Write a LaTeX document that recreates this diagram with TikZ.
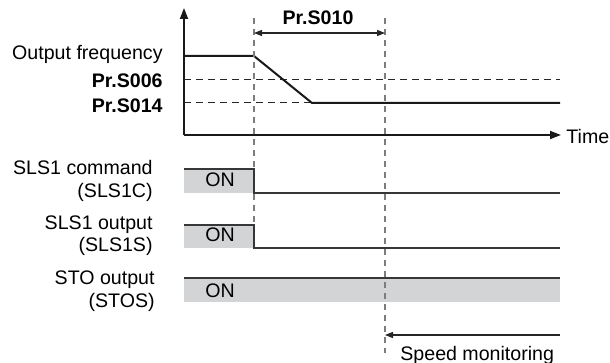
\documentclass[tikz,border=0pt]{standalone}
\usepackage{fontspec}
\setmainfont{Liberation Sans}
\usetikzlibrary{arrows.meta}

\definecolor{sigline}{RGB}{55,55,55}
\definecolor{onfill}{RGB}{211,212,213}
\definecolor{guide}{RGB}{125,125,125}

\begin{document}
\begin{tikzpicture}[x=0.5pt, y=-0.5pt,
    every node/.style={font=\fontsize{9.8}{11.5}\selectfont, inner sep=0pt},
    lbl/.style={anchor=base east},
    guideline/.style={guide, line width=0.9pt, dash pattern=on 3pt off 2.5pt},
    levelline/.style={black!85, line width=0.5pt, dash pattern=on 3.5pt off 2.5pt},
    signal/.style={sigline, line width=0.65pt},
    dimarrow/.style={{Triangle[length=4pt, width=3pt]}-{Triangle[length=4pt, width=3pt]}, black!85, line width=0.6pt}]
  \useasboundingbox (0,0) rectangle (610,363);

  % Time instants (vertical guides)
  \coordinate (t1top) at (254,18);
  \coordinate (t1bot) at (254,225);
  \coordinate (t2top) at (385,18);
  \coordinate (t2bot) at (385,353);

  % Fills for ON states
  \fill[onfill] (184,169) rectangle (254,193);
  \fill[onfill] (184,225) rectangle (254,248);
  \fill[onfill] (184,278) rectangle (560,302);

  % Axes
  \coordinate (origin) at (184,135);
  \coordinate (ytip) at (184,8);
  \coordinate (xtip) at (561,135);
  \draw[-{Triangle[length=5.5pt, width=4pt]}, black!90, line width=0.85pt] (origin) -- (ytip);
  \draw[-{Triangle[length=5.5pt, width=4pt]}, black!90, line width=0.85pt] (origin) -- (xtip);
  \node[anchor=base west] (time) at (566,144) {Time};

  % Speed levels
  \draw[levelline] (184,80) -- (560,80);
  \draw[levelline] (184,103) -- (312,103);

  % Output frequency profile
  \draw[black!90, line width=1pt] (184,56) -- (254,56) -- (312,103) -- (560,103);

  % Vertical guides
  \draw[guideline] (t1top) -- (t1bot);
  \draw[guideline] (t2top) -- (t2bot);

  % Pr.S010 interval
  \coordinate (s10a) at (254,33);
  \coordinate (s10b) at (385,33);
  \draw[dimarrow] (s10a) -- (s10b);
  \node[anchor=base] (s010) at (318,25) {\bfseries Pr.S010};

  % Signals
  \draw[signal] (184,169) -- (254,169) -- (254,193) -- (560,193);
  \draw[signal] (184,225) -- (254,225) -- (254,248) -- (560,248);
  \draw[signal] (184,278) -- (560,278);
  \node[anchor=base] (onC) at (220,187) {ON};
  \node[anchor=base] (onS) at (220,242) {ON};
  \node[anchor=base] (onT) at (220,297) {ON};

  % Labels
  \node[lbl] (freq) at (163,60) {Output frequency};
  \node[lbl] (s006) at (163,88) {\bfseries Pr.S006};
  \node[lbl] (s014) at (163,113) {\bfseries Pr.S014};
  \node[lbl] (cmdA) at (153,175) {SLS1 command};
  \node[lbl] (cmdB) at (153,198) {(SLS1C)};
  \node[lbl] (outA) at (153,230) {SLS1 output};
  \node[lbl] (outB) at (153,252) {(SLS1S)};
  \node[lbl] (stoA) at (155,285) {STO output};
  \node[lbl] (stoB) at (155,307) {(STOS)};

  % Speed monitoring
  \coordinate (mon) at (560,335);
  \coordinate (monend) at (385,335);
  \draw[-{Triangle[length=4pt, width=3pt]}, black!85, line width=0.6pt] (mon) -- (monend);
  \node[anchor=base west] (speed) at (400,360) {Speed monitoring};
\end{tikzpicture}
\end{document}
